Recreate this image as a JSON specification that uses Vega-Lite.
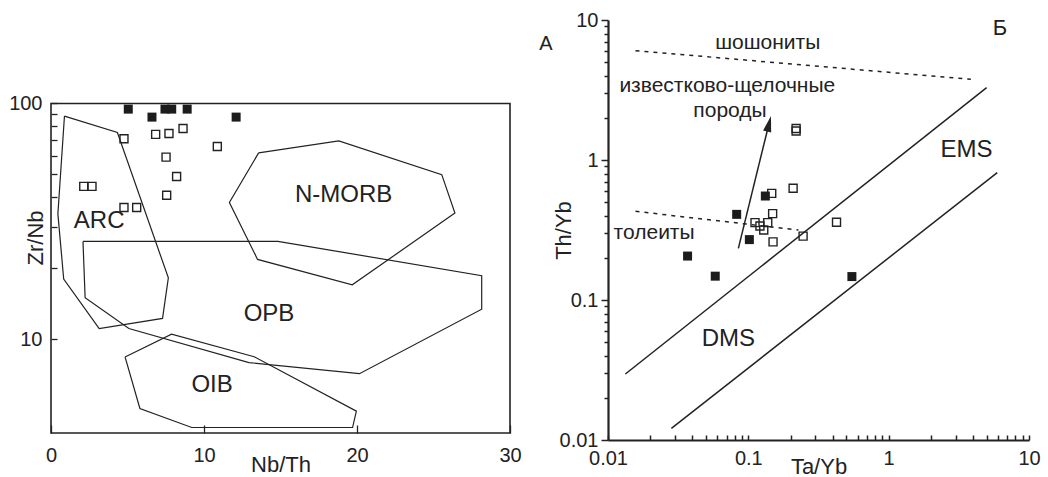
{
  "$schema": "https://vega.github.io/schema/vega-lite/v6.json",
  "padding": {"left": 8, "top": 10, "right": 5, "bottom": 0},
  "background": "white",
  "config": {
    "view": {"stroke": null},
    "font": "Liberation Sans",
    "axis": {"grid": false, "labelFont": "Liberation Sans", "titleFont": "Liberation Sans", "labelColor": "#222", "titleColor": "#222", "tickColor": "#222", "domainColor": "#222", "titleFontWeight": "normal"}
  },
  "bounds": "flush",
  "spacing": 98,
  "datasets": {
    "leftPoly": [
      {"poly": "ARC", "i": 0, "x": 0.88, "y": 88.4}, {"poly": "ARC", "i": 1, "x": 4.34, "y": 75.3}, {"poly": "ARC", "i": 2, "x": 7.67, "y": 18.2}, {"poly": "ARC", "i": 3, "x": 7.29, "y": 12.25}, {"poly": "ARC", "i": 4, "x": 3.15, "y": 11.1}, {"poly": "ARC", "i": 5, "x": 0.83, "y": 18.0}, {"poly": "ARC", "i": 6, "x": 0.45, "y": 34.0}, {"poly": "ARC", "i": 7, "x": 0.88, "y": 88.4},
      {"poly": "NMORB", "i": 0, "x": 13.57, "y": 61.7}, {"poly": "NMORB", "i": 1, "x": 18.81, "y": 69.4}, {"poly": "NMORB", "i": 2, "x": 25.54, "y": 49.9}, {"poly": "NMORB", "i": 3, "x": 26.4, "y": 34.3}, {"poly": "NMORB", "i": 4, "x": 19.69, "y": 17.0}, {"poly": "NMORB", "i": 5, "x": 13.5, "y": 21.8}, {"poly": "NMORB", "i": 6, "x": 11.66, "y": 38.0}, {"poly": "NMORB", "i": 7, "x": 13.57, "y": 61.7},
      {"poly": "OPB", "i": 0, "x": 2.09, "y": 26.0}, {"poly": "OPB", "i": 1, "x": 14.83, "y": 26.0}, {"poly": "OPB", "i": 2, "x": 28.15, "y": 18.6}, {"poly": "OPB", "i": 3, "x": 28.15, "y": 13.4}, {"poly": "OPB", "i": 4, "x": 20.16, "y": 7.14}, {"poly": "OPB", "i": 5, "x": 12.94, "y": 7.96}, {"poly": "OPB", "i": 6, "x": 5.09, "y": 11.1}, {"poly": "OPB", "i": 7, "x": 2.23, "y": 15.0}, {"poly": "OPB", "i": 8, "x": 2.09, "y": 26.0},
      {"poly": "OIB", "i": 0, "x": 4.84, "y": 8.41}, {"poly": "OIB", "i": 1, "x": 7.88, "y": 10.5}, {"poly": "OIB", "i": 2, "x": 13.28, "y": 8.42}, {"poly": "OIB", "i": 3, "x": 19.96, "y": 4.95}, {"poly": "OIB", "i": 4, "x": 19.71, "y": 4.22}, {"poly": "OIB", "i": 5, "x": 9.2, "y": 4.22}, {"poly": "OIB", "i": 6, "x": 5.81, "y": 5.08}, {"poly": "OIB", "i": 7, "x": 4.84, "y": 8.41}
    ],
    "leftFrame": [{"x": 0, "x2": 30, "y": 4, "y2": 100}],
    "leftFilled": [
      {"x": 5.05, "y": 94.6}, {"x": 6.6, "y": 87.5}, {"x": 7.45, "y": 94.6}, {"x": 7.89, "y": 94.6}, {"x": 8.9, "y": 94.6}, {"x": 12.1, "y": 87.5}
    ],
    "leftOpen": [
      {"x": 4.77, "y": 70.8}, {"x": 6.84, "y": 73.9}, {"x": 7.71, "y": 74.6}, {"x": 8.63, "y": 78.3}, {"x": 10.87, "y": 65.7}, {"x": 7.52, "y": 59.2}, {"x": 8.21, "y": 49.0}, {"x": 7.56, "y": 40.8}, {"x": 2.14, "y": 44.5}, {"x": 2.68, "y": 44.5}, {"x": 4.77, "y": 36.2}, {"x": 5.6, "y": 36.2}
    ],
    "leftText": [
      {"label": "ARC", "x": 3.15, "y": 31.7}, {"label": "N-MORB", "x": 19.13, "y": 41.0}, {"label": "OPB", "x": 14.25, "y": 12.8}, {"label": "OIB", "x": 10.53, "y": 6.37}
    ],
    "leftTag": [{"label": "А", "x": 32.35, "y": 178}],
    "rightSolid": [
      {"g": "EMS", "i": 0, "x": 0.0133, "y": 0.0296}, {"g": "EMS", "i": 1, "x": 4.99, "y": 3.29},
      {"g": "DMS", "i": 0, "x": 0.0283, "y": 0.0121}, {"g": "DMS", "i": 1, "x": 5.94, "y": 0.813},
      {"g": "arrow", "i": 0, "x": 0.0849, "y": 0.234}, {"g": "arrow", "i": 1, "x": 0.14, "y": 1.8}
    ],
    "rightDash": [
      {"g": "sh", "i": 0, "x": 0.0157, "y": 6.04}, {"g": "sh", "i": 1, "x": 3.85, "y": 3.77},
      {"g": "th", "i": 0, "x": 0.0157, "y": 0.43}, {"g": "th", "i": 1, "x": 0.2276, "y": 0.316}
    ],
    "rightArrowHead": [{"x": 0.145, "y": 2.06}],
    "rightFilled": [
      {"x": 0.0369, "y": 0.206}, {"x": 0.0581, "y": 0.148}, {"x": 0.0826, "y": 0.409}, {"x": 0.1017, "y": 0.27}, {"x": 0.1322, "y": 0.553}, {"x": 0.547, "y": 0.147}
    ],
    "rightOpen": [
      {"x": 0.219, "y": 1.68}, {"x": 0.219, "y": 1.61}, {"x": 0.2085, "y": 0.628}, {"x": 0.1468, "y": 0.578}, {"x": 0.149, "y": 0.414}, {"x": 0.1375, "y": 0.357}, {"x": 0.1116, "y": 0.357}, {"x": 0.121, "y": 0.338}, {"x": 0.1288, "y": 0.316}, {"x": 0.15, "y": 0.26}, {"x": 0.2456, "y": 0.286}, {"x": 0.425, "y": 0.359}
    ],
    "rightText": [
      {"label": "шошониты", "x": 0.1375, "y": 6.81},
      {"label": "известково-щелочные", "x": 0.0708, "y": 3.38},
      {"label": "породы", "x": 0.074, "y": 2.24},
      {"label": "толеиты", "x": 0.0213, "y": 0.299}
    ],
    "rightText2": [
      {"label": "EMS", "x": 3.59, "y": 1.18},
      {"label": "DMS", "x": 0.072, "y": 0.0524}
    ],
    "rightTag": [{"label": "Б", "x": 6.21, "y": 8.72}]
  },
  "hconcat": [
    {
      "width": 459,
      "height": 413,
      "encoding": {
        "x": {"field": "x", "type": "quantitative",
          "scale": {"domain": [0, 30], "nice": false, "zero": false},
          "axis": {"values": [0, 10, 20, 30], "domain": false, "tickSize": -8, "tickWidth": 1.3, "labelFontSize": 20, "labelPadding": 20, "labelFlush": false, "title": "Nb/Th", "titleFontSize": 22, "titleBaseline": "alphabetic", "titleY": 38}},
        "y": {"field": "y", "type": "quantitative",
          "scale": {"type": "log", "domain": [4, 225.9], "nice": false},
          "axis": {"values": [10, 20, 30, 40, 50, 60, 70, 80, 90, 100], "domain": false, "tickSize": -6, "tickWidth": 1.3, "labelFontSize": 20, "labelPadding": 15, "labelExpr": "(datum.value == 10 || datum.value == 100) ? format(datum.value, 'd') : ''", "title": "Zr/Nb", "titleFontSize": 22, "titleBaseline": "alphabetic", "titleX": -9, "titleY": 217.5, "titleAngle": -90}}
      },
      "layer": [
        {"data": {"name": "leftFrame"}, "mark": {"type": "rect", "fillOpacity": 0, "stroke": "#222", "strokeWidth": 1.6},
         "encoding": {"x2": {"field": "x2"}, "y2": {"field": "y2"}}},
        {"data": {"name": "leftPoly"}, "mark": {"type": "line", "color": "#222", "strokeWidth": 1.2},
         "encoding": {"detail": {"field": "poly"}, "order": {"field": "i", "type": "quantitative"}}},
        {"data": {"name": "leftOpen"}, "mark": {"type": "square", "filled": false, "size": 64, "stroke": "#222", "strokeWidth": 1.4, "opacity": 1}},
        {"data": {"name": "leftFilled"}, "mark": {"type": "square", "filled": true, "size": 81, "color": "#1c1c1c", "opacity": 1}},
        {"data": {"name": "leftText"}, "mark": {"type": "text", "fontSize": 24, "color": "#222", "font": "Liberation Sans"},
         "encoding": {"text": {"field": "label"}}},
        {"data": {"name": "leftTag"}, "mark": {"type": "text", "fontSize": 20, "color": "#222", "font": "Liberation Sans"},
         "encoding": {"text": {"field": "label"}}}
      ]
    },
    {
      "width": 421,
      "height": 420,
      "encoding": {
        "x": {"field": "x", "type": "quantitative",
          "scale": {"type": "log", "domain": [0.01, 10], "nice": false},
          "axis": {"values": [0.01, 0.02, 0.03, 0.04, 0.05, 0.06, 0.07, 0.08, 0.09, 0.1, 0.2, 0.3, 0.4, 0.5, 0.6, 0.7, 0.8, 0.9, 1, 2, 3, 4, 5, 6, 7, 8, 9, 10],
            "domain": true, "domainWidth": 2.2, "tickSize": -5, "tickWidth": 1.5, "labelFontSize": 20, "labelPadding": 13, "labelFlush": false,
            "labelExpr": "indexof([0.01, 0.1, 1, 10], datum.value) >= 0 ? format(datum.value, '~g') : ''",
            "title": "Ta/Yb", "titleFontSize": 22, "titleBaseline": "alphabetic", "titleY": 33}},
        "y": {"field": "y", "type": "quantitative",
          "scale": {"type": "log", "domain": [0.01, 10], "nice": false},
          "axis": {"values": [0.01, 0.02, 0.03, 0.04, 0.05, 0.06, 0.07, 0.08, 0.09, 0.1, 0.2, 0.3, 0.4, 0.5, 0.6, 0.7, 0.8, 0.9, 1, 2, 3, 4, 5, 6, 7, 8, 9, 10],
            "domain": true, "domainWidth": 2.2, "tickWidth": 1.5,
            "tickSize": {"condition": {"test": "indexof([0.01, 0.1, 1, 10], datum.value) >= 0", "value": 7}, "value": 4},
            "labelFontSize": 20, "labelPadding": 3,
            "labelExpr": "indexof([0.01, 0.1, 1, 10], datum.value) >= 0 ? format(datum.value, '~g') : ''",
            "title": "Th/Yb", "titleFontSize": 22, "titleBaseline": "alphabetic", "titleX": -38, "titleAngle": -90}}
      },
      "layer": [
        {"data": {"name": "rightSolid"}, "mark": {"type": "line", "color": "#222", "strokeWidth": 1.5},
         "encoding": {"detail": {"field": "g"}, "order": {"field": "i", "type": "quantitative"}}},
        {"data": {"name": "rightDash"}, "mark": {"type": "line", "color": "#222", "strokeWidth": 1.5, "strokeDash": [4, 5]},
         "encoding": {"detail": {"field": "g"}, "order": {"field": "i", "type": "quantitative"}}},
        {"data": {"name": "rightArrowHead"}, "mark": {"type": "point", "shape": "M0,0L0.26,1L-0.26,1Z", "size": 1024, "angle": 14, "filled": true, "color": "#222", "opacity": 1}},
        {"data": {"name": "rightOpen"}, "mark": {"type": "square", "filled": false, "size": 64, "stroke": "#222", "strokeWidth": 1.4, "opacity": 1}},
        {"data": {"name": "rightFilled"}, "mark": {"type": "square", "filled": true, "size": 81, "color": "#1c1c1c", "opacity": 1}},
        {"data": {"name": "rightText"}, "mark": {"type": "text", "fontSize": 21, "color": "#222", "font": "Liberation Sans"},
         "encoding": {"text": {"field": "label"}}},
        {"data": {"name": "rightText2"}, "mark": {"type": "text", "fontSize": 24, "color": "#222", "font": "Liberation Sans"},
         "encoding": {"text": {"field": "label"}}},
        {"data": {"name": "rightTag"}, "mark": {"type": "text", "fontSize": 22, "color": "#222", "font": "Liberation Sans"},
         "encoding": {"text": {"field": "label"}}}
      ]
    }
  ]
}
